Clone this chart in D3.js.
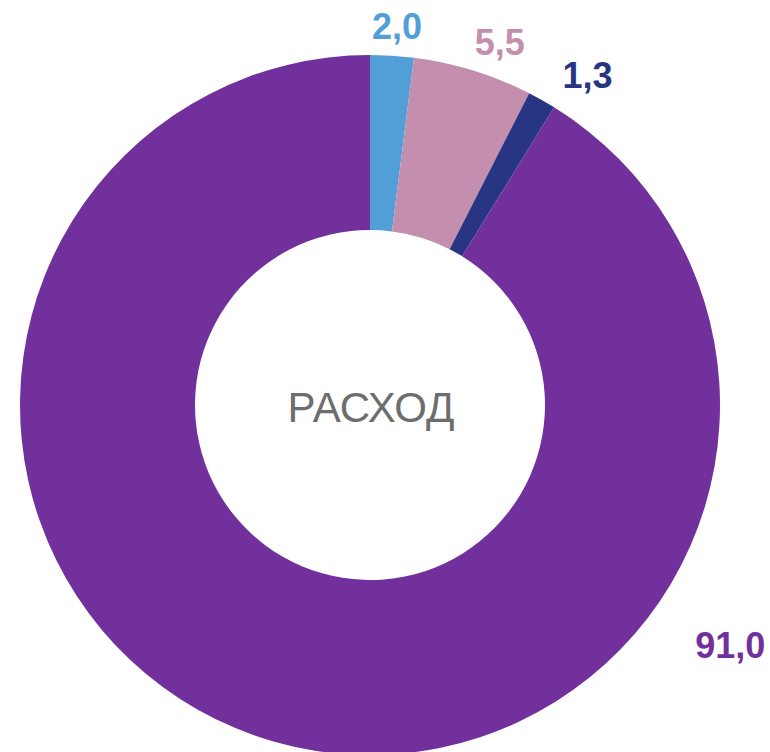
<!DOCTYPE html>
<html>
<head>
<meta charset="utf-8">
<script src="https://cdn.jsdelivr.net/npm/d3@7"></script>
<style>
  body { margin: 0; background: #fff; }
  text { font-family: "Liberation Sans", Arial, sans-serif; }
</style>
</head>
<body>
<div id="chart"></div>
<script>
// data
var labels = ["2,0", "5,5", "1,3", "91,0"];
var values = [2.0, 5.5, 1.3, 91.0];
var colors = ["#529fd7", "#c48faf", "#283583", "#71309b"];
// label placement: angle (deg, clockwise from top) and distance from centre
var labelAngle = [4.1, 19.7, 33.4, 123.7];
var labelRadius = [379, 385, 395, 433];

var width = 770, height = 752,
    cx = 370, cy = 405,
    outerR = 350, innerR = 175;

var svg = d3.select("#chart")
    .append("svg")
    .attr("width", width)
    .attr("height", height)
    .append("g")
    .attr("transform", "translate(" + cx + "," + cy + ")");

var pie = d3.pie().sort(null).value(function(d) { return d; });
var arc = d3.arc().innerRadius(innerR).outerRadius(outerR);

var arcs = pie(values);

svg.selectAll("path")
    .data(arcs)
    .enter()
    .append("path")
        .attr("d", arc)
        .attr("fill", function(d, i) { return colors[i]; });

svg.selectAll(".lbl")
    .data(arcs)
    .enter()
    .append("text")
        .attr("class", "lbl")
        .attr("x", function(d, i) { return Math.sin(labelAngle[i] * Math.PI / 180) * labelRadius[i]; })
        .attr("y", function(d, i) { return -Math.cos(labelAngle[i] * Math.PI / 180) * labelRadius[i]; })
        .attr("text-anchor", "middle")
        .attr("dominant-baseline", "central")
        .attr("font-size", "36px")
        .attr("font-weight", "bold")
        .attr("fill", function(d, i) { return colors[i]; })
        .text(function(d, i) { return labels[i]; });

svg.append("text")
    .attr("x", 1)
    .attr("y", 2)
    .attr("text-anchor", "middle")
    .attr("dominant-baseline", "central")
    .attr("font-size", "42px")
    .attr("fill", "#6d6d6d")
    .text("РАСХОД");
</script>
</body>
</html>
